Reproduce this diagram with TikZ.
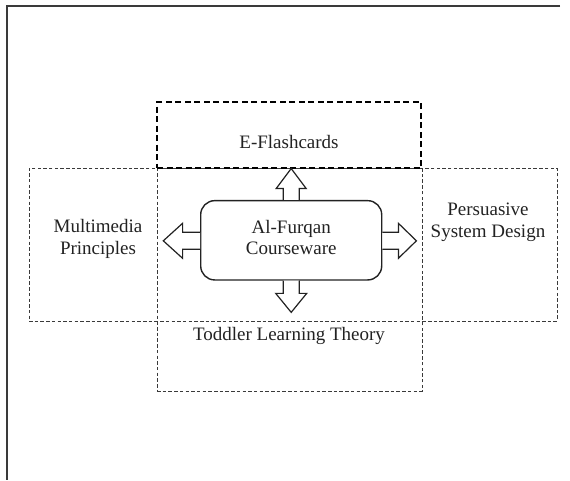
\documentclass[tikz,border=0pt]{standalone}
\usepackage{fontspec}
\setmainfont{Liberation Serif}
\usetikzlibrary{calc}
\definecolor{ink}{HTML}{222222}
\definecolor{frame}{HTML}{3A3A3A}
\tikzset{
  thindash/.style={draw=frame, line width=0.8pt, dash pattern=on 3.5pt off 2.2pt},
  thickdash/.style={draw=black, line width=1.6pt, dash pattern=on 6pt off 3.5pt},
  region/.style={thindash, rectangle, inner sep=0pt},
  lbl/.style={text=ink, font={\fontsize{19}{21.5}\selectfont}, align=center, inner sep=0pt},
  corebox/.style={draw=ink, line width=1.4pt, rounded corners=14pt, rectangle, fill=white, inner sep=0pt},
  blockarrow/.style={draw=ink, line width=1.2pt, fill=white, line join=miter},
  outer/.style={draw=frame, line width=2pt}
}
\begin{document}
\begin{tikzpicture}[x=1pt, y=-1pt]
\useasboundingbox (0,0) rectangle (570,480);
% outer frame (top and left edges only)
\coordinate (ftl) at (7,5.5);
\coordinate (ftr) at (560,5.5);
\coordinate (fbl) at (7,480);
\draw[outer] (ftr) -- (ftl) -- (fbl);
% dashed regions
\node[region, minimum width=528pt, minimum height=153pt] (hreg) at (293,244.5) {};
\node[region, minimum width=265pt, minimum height=223pt] (vreg) at (289.5,279.5) {};
\node[thickdash, rectangle, inner sep=0pt, minimum width=264pt, minimum height=66pt] (flash) at (289,135) {};
% core
\node[corebox, minimum width=181pt, minimum height=79.3pt] (core) at (291.2,240.3) {};
\node[lbl] (coretxt) at (291.2,237.5) {Al-Furqan\\Courseware};
% labels
\node[lbl, anchor=base] (flashtxt) at (289,148) {E-Flashcards};
\node[lbl] (mmtxt) at (98,239) {Multimedia\\Principles};
\node[lbl] (pstxt) at (488,222.5) {Persuasive\\System Design};
\node[lbl, anchor=base] (tltxt) at (289,340) {Toddler Learning Theory};
% block arrows
\draw[blockarrow, shift={(core.north)}] (-8,0) -- (-8,-11.4) -- (-15,-11.4) -- (0,-31.4) -- (15,-11.4) -- (8,-11.4) -- (8,0);
\draw[blockarrow, shift={(core.south)}] (-8,0) -- (-8,12.7) -- (-15.5,12.7) -- (0,31.7) -- (15.5,12.7) -- (8,12.7) -- (8,0);
\draw[blockarrow, shift={(core.west)}] (0,-8) -- (-17.4,-8) -- (-17.4,-17) -- (-36.7,0.5) -- (-17.4,18) -- (-17.4,9) -- (0,9);
\draw[blockarrow, shift={(core.east)}] (0,-8) -- (16,-8) -- (16,-17) -- (34,0.5) -- (16,18) -- (16,9) -- (0,9);
\end{tikzpicture}
\end{document}
